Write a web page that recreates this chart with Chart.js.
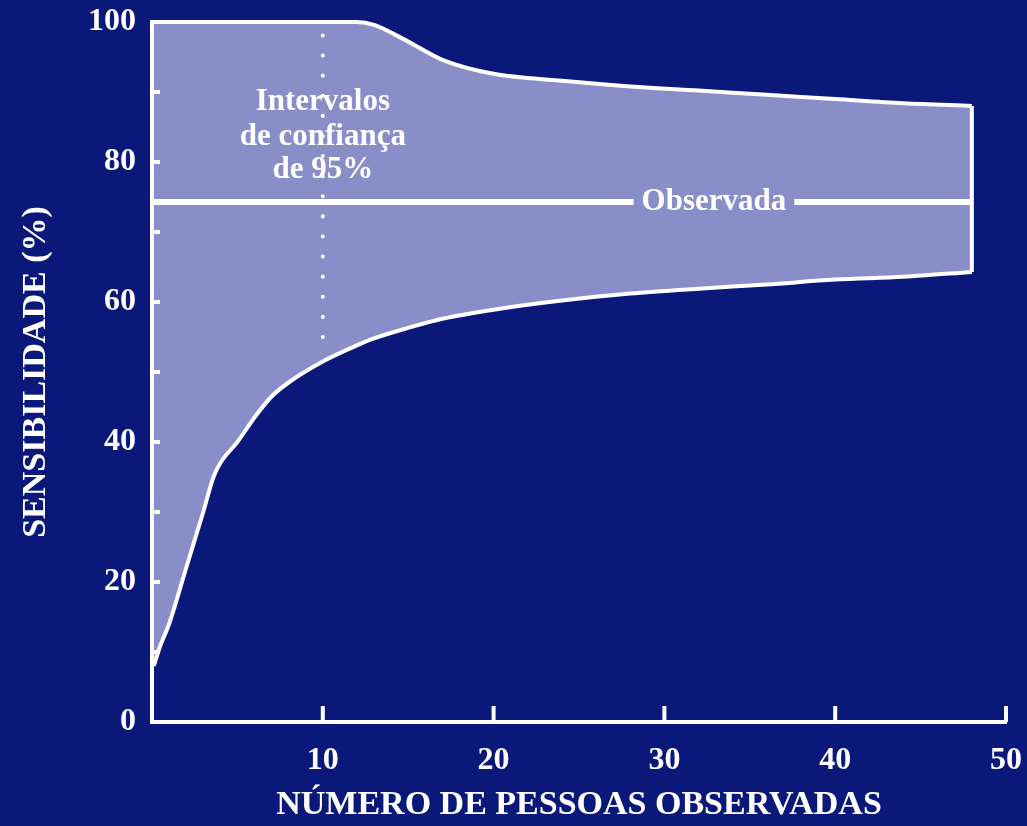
<!DOCTYPE html>
<html>
<head>
<meta charset="utf-8">
<script src="https://cdn.jsdelivr.net/npm/chart.js@4"></script>
<style>
  html, body { margin: 0; padding: 0; background: #0a187a; }
  #wrap { width: 1027px; height: 826px; }
</style>
</head>
<body>
<div id="wrap"><canvas id="sensChart" width="1027" height="826"></canvas></div>
<script>
// x positions (people observed) and the 95% confidence bounds
const pessoas = [0.1, 0.5, 1, 2, 3, 3.6, 4, 5, 6, 7, 8, 10, 12, 13, 15, 17, 20, 24, 28, 32, 36, 40, 44, 48];
const limiteSup = [100, 100, 100, 100, 100, 100, 100, 100, 100, 100, 100, 100, 100, 99.6, 97.2, 94.6, 92.6, 91.6, 90.8, 90.2, 89.6, 89.0, 88.4, 88.0];
const limiteInf = [8, 11, 14, 22, 30, 35, 37, 40, 43.5, 46.5, 48.5, 51.5, 53.8, 54.8, 56.3, 57.6, 58.9, 60.2, 61.2, 61.9, 62.5, 63.2, 63.6, 64.3];
const observada = 74.3;
const xTicks = [0, 10, 20, 30, 40, 50];
const yTicks = [0, 20, 40, 60, 80, 100];

const BG = '#0a187a';
const BAND = '#8a8ec8';
const WHITE = '#ffffff';
const SERIF = '"Liberation Serif", "DejaVu Serif", serif';

const xFirst = pessoas[0];
const xLast = pessoas[pessoas.length - 1];

const extras = {
  id: 'extras',
  beforeDraw(chart) {
    const c = chart.ctx;
    c.save();
    c.fillStyle = BG;
    c.fillRect(0, 0, chart.width, chart.height);
    c.restore();
  },
  afterDatasetsDraw(chart) {
    const c = chart.ctx;
    const xs = chart.scales.x, ys = chart.scales.y;
    c.save();
    c.strokeStyle = WHITE;
    c.lineWidth = 4;
    // inward tick marks
    for (let v = 10; v < 100; v += 10) {
      const py = ys.getPixelForValue(v);
      c.beginPath();
      c.moveTo(xs.left, py);
      c.lineTo(xs.left + 8, py);
      c.stroke();
    }
    for (let v = 10; v <= 50; v += 10) {
      const px = xs.getPixelForValue(v);
      c.beginPath();
      c.moveTo(px, ys.bottom);
      c.lineTo(px, ys.bottom - 16);
      c.stroke();
    }
    // band notes
    c.fillStyle = WHITE;
    c.textAlign = 'center';
    c.textBaseline = 'middle';
    c.font = 'bold 31px ' + SERIF;
    const cx = xs.getPixelForValue(10);
    c.fillText('Intervalos', cx, ys.getPixelForValue(88.6));
    c.fillText('de confiança', cx, ys.getPixelForValue(83.6));
    c.fillText('de 95%', cx, ys.getPixelForValue(78.8));
    // label over the observed line
    c.font = 'bold 31px ' + SERIF;
    const ox = xs.getPixelForValue(32.9);
    const oy = ys.getPixelForValue(observada);
    const w = c.measureText('Observada').width;
    c.fillStyle = BAND;
    c.fillRect(ox - w / 2 - 8, oy - 8, w + 16, 16);
    c.fillStyle = WHITE;
    c.fillText('Observada', ox, oy);
    c.restore();
  }
};

new Chart(document.getElementById('sensChart'), {
  type: 'line',
  data: {
    datasets: [
      {
        label: 'Limite superior',
        data: pessoas.map((x, i) => ({ x, y: limiteSup[i] })),
        borderColor: WHITE,
        borderWidth: 4,
        backgroundColor: BAND,
        fill: '+1',
        pointRadius: 0,
        cubicInterpolationMode: 'monotone',
        clip: false,
        order: 5
      },
      {
        label: 'Limite inferior',
        data: pessoas.map((x, i) => ({ x, y: limiteInf[i] })),
        borderColor: WHITE,
        borderWidth: 4,
        fill: false,
        pointRadius: 0,
        cubicInterpolationMode: 'monotone',
        clip: false,
        order: 1
      },
      {
        label: 'Borda',
        data: [{ x: xLast, y: limiteInf[limiteInf.length - 1] }, { x: xLast, y: limiteSup[limiteSup.length - 1] }],
        borderColor: WHITE,
        borderWidth: 4,
        pointRadius: 0,
        fill: false,
        clip: false,
        order: 1
      },
      {
        label: 'Observada',
        data: [{ x: xFirst, y: observada }, { x: xLast, y: observada }],
        borderColor: WHITE,
        borderWidth: 6,
        pointRadius: 0,
        fill: false,
        order: 0
      },
      {
        label: 'n = 10',
        data: [{ x: 10, y: 55 }, { x: 10, y: 99 }],
        borderColor: WHITE,
        borderWidth: 4,
        borderDash: [0.1, 20],
        borderCapStyle: 'round',
        pointRadius: 0,
        fill: false,
        order: 0
      }
    ]
  },
  options: {
    responsive: false,
    animation: false,
    layout: { padding: { top: 22, right: 21, left: 0, bottom: 0 } },
    plugins: {
      legend: { display: false },
      tooltip: { enabled: false }
    },
    scales: {
      x: {
        type: 'linear',
        min: 0,
        max: 50,
        afterFit: s => { s.height = 104; s.paddingLeft = 0; s.paddingRight = 0; },
        afterBuildTicks: s => { s.ticks = xTicks.map(v => ({ value: v })); },
        grid: { display: true, drawOnChartArea: false, drawTicks: false },
        border: { display: true, color: WHITE, width: 4 },
        ticks: {
          color: WHITE,
          padding: 20,
          font: { family: SERIF, size: 32, weight: 'bold' },
          callback: v => (v === 0 ? '' : v)
        },
        title: {
          display: true,
          text: 'NÚMERO DE PESSOAS OBSERVADAS',
          color: WHITE,
          font: { family: SERIF, size: 34, weight: 'bold' },
          padding: { top: 0, bottom: 0 }
        }
      },
      y: {
        min: 0,
        max: 100,
        afterFit: s => { s.width = 152; s.paddingTop = 0; s.paddingBottom = 0; },
        afterBuildTicks: s => { s.ticks = yTicks.map(v => ({ value: v })); },
        grid: { display: true, drawOnChartArea: false, drawTicks: false },
        border: { display: true, color: WHITE, width: 4 },
        ticks: {
          color: WHITE,
          padding: 16,
          font: { family: SERIF, size: 32, weight: 'bold' }
        },
        title: {
          display: true,
          text: 'SENSIBILIDADE (%)',
          color: WHITE,
          font: { family: SERIF, size: 34, weight: 'bold' },
          padding: { top: 16 }
        }
      }
    }
  },
  plugins: [extras]
});
</script>
</body>
</html>
